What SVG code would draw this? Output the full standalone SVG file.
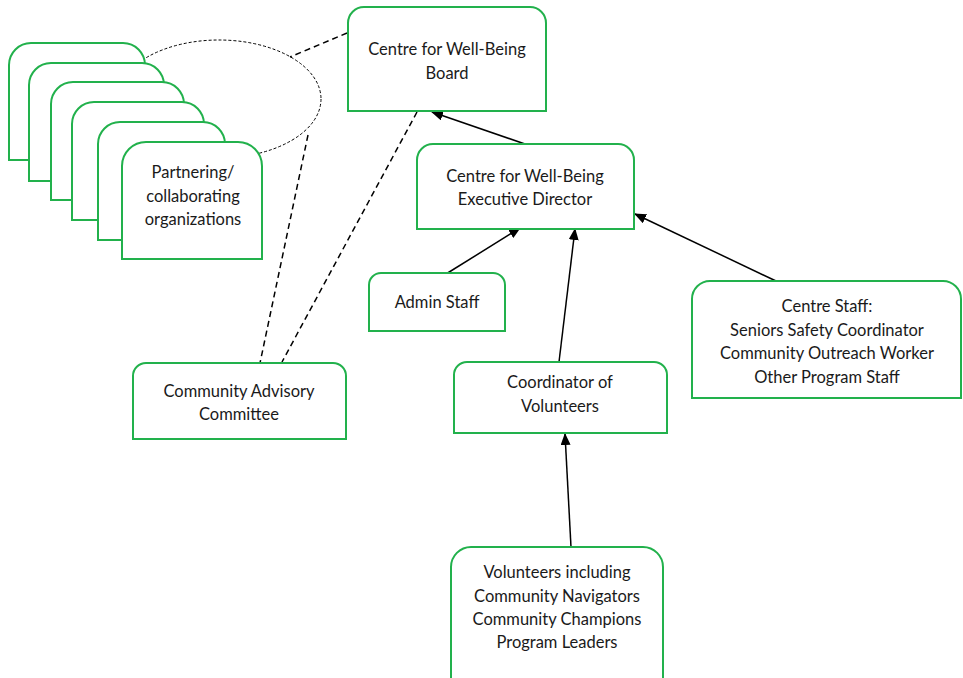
<svg xmlns="http://www.w3.org/2000/svg" width="963" height="678" viewBox="0 0 963 678">
<style>
.box{fill:#fff;stroke:#22b14c;stroke-width:2}
.t{font-family:Lato,"Open Sans","Liberation Sans",sans-serif;font-size:16.5px;fill:#1a1a1a;text-anchor:middle}
.dash{fill:none;stroke:#000;stroke-width:1.5;stroke-dasharray:6 4}
.arr{fill:none;stroke:#000;stroke-width:1.5;marker-end:url(#ah)}
</style>
<defs>
<marker id="ah" markerUnits="userSpaceOnUse" markerWidth="12" markerHeight="10" refX="11" refY="5" orient="auto">
<path d="M0,0 L12,5 L0,10 z" fill="#000"/>
</marker>
</defs>
<rect width="963" height="678" fill="#fff"/>
<g id="connectors">
<ellipse cx="219" cy="99" rx="102" ry="59" fill="none" stroke="#000" stroke-width="1" stroke-dasharray="3 2"/>
<line class="dash" x1="347" y1="33" x2="290" y2="57"/>
<line class="dash" x1="308" y1="135" x2="260" y2="363"/>
<line class="dash" x1="417" y1="112" x2="282" y2="362"/>
<line class="arr" x1="525" y1="144" x2="432" y2="112"/>
<line class="arr" x1="446" y1="274" x2="520" y2="228"/>
<line class="arr" x1="559" y1="362" x2="575" y2="229"/>
<line class="arr" x1="776" y1="281" x2="635" y2="214"/>
<line class="arr" x1="571" y1="547" x2="565" y2="434"/>
</g>
<g id="partners">
<path class="box" d="M9 160 V65 A22 22 0 0 1 31 43 H123 A22 22 0 0 1 145 65 V160 Z"/>
<path class="box" d="M29 181 V85 A22 22 0 0 1 51 63 H142 A22 22 0 0 1 164 85 V181 Z"/>
<path class="box" d="M51 200 V104 A22 22 0 0 1 73 82 H162 A22 22 0 0 1 184 104 V200 Z"/>
<path class="box" d="M72 220 V124 A22 22 0 0 1 94 102 H182 A22 22 0 0 1 204 124 V220 Z"/>
<path class="box" d="M98 240 V144 A22 22 0 0 1 120 122 H203 A22 22 0 0 1 225 144 V240 Z"/>
<path class="box" d="M122 259 V166 A24 24 0 0 1 146 142 H238 A24 24 0 0 1 262 166 V259 Z"/>
<text class="t" x="193" y="178">Partnering/</text>
<text class="t" x="193" y="202">collaborating</text>
<text class="t" x="193" y="225">organizations</text>
</g>
<g id="board">
<path class="box" d="M348 111 V23 A16 16 0 0 1 364 7 H530 A16 16 0 0 1 546 23 V111 Z"/>
<text class="t" x="447" y="55">Centre for Well-Being</text>
<text class="t" x="447" y="79">Board</text>
</g>
<g id="exec">
<path class="box" d="M417 229 V160 A16 16 0 0 1 433 144 H618 A16 16 0 0 1 634 160 V229 Z"/>
<text class="t" x="525" y="182">Centre for Well-Being</text>
<text class="t" x="525" y="205">Executive Director</text>
</g>
<g id="admin">
<path class="box" d="M369 331 V285 A12 12 0 0 1 381 273 H493 A12 12 0 0 1 505 285 V331 Z"/>
<text class="t" x="437" y="308">Admin Staff</text>
</g>
<g id="cac">
<path class="box" d="M133 439 V376 A13 13 0 0 1 146 363 H333 A13 13 0 0 1 346 376 V439 Z"/>
<text class="t" x="239" y="397">Community Advisory</text>
<text class="t" x="239" y="420">Committee</text>
</g>
<g id="coordinator">
<path class="box" d="M454 433 V375 A13 13 0 0 1 467 362 H654 A13 13 0 0 1 667 375 V433 Z"/>
<text class="t" x="560" y="388">Coordinator of</text>
<text class="t" x="560" y="412">Volunteers</text>
</g>
<g id="centre-staff">
<path class="box" d="M692 398 V299 A18 18 0 0 1 710 281 H943 A18 18 0 0 1 961 299 V398 Z"/>
<text class="t" x="827" y="312">Centre Staff:</text>
<text class="t" x="827" y="336">Seniors Safety Coordinator</text>
<text class="t" x="827" y="359">Community Outreach Worker</text>
<text class="t" x="827" y="383">Other Program Staff</text>
</g>
<g id="volunteers">
<path class="box" d="M451 682 V567 A20 20 0 0 1 471 547 H643 A20 20 0 0 1 663 567 V682 Z"/>
<text class="t" x="557" y="578">Volunteers including</text>
<text class="t" x="557" y="602">Community Navigators</text>
<text class="t" x="557" y="625">Community Champions</text>
<text class="t" x="557" y="648">Program Leaders</text>
</g>
</svg>
